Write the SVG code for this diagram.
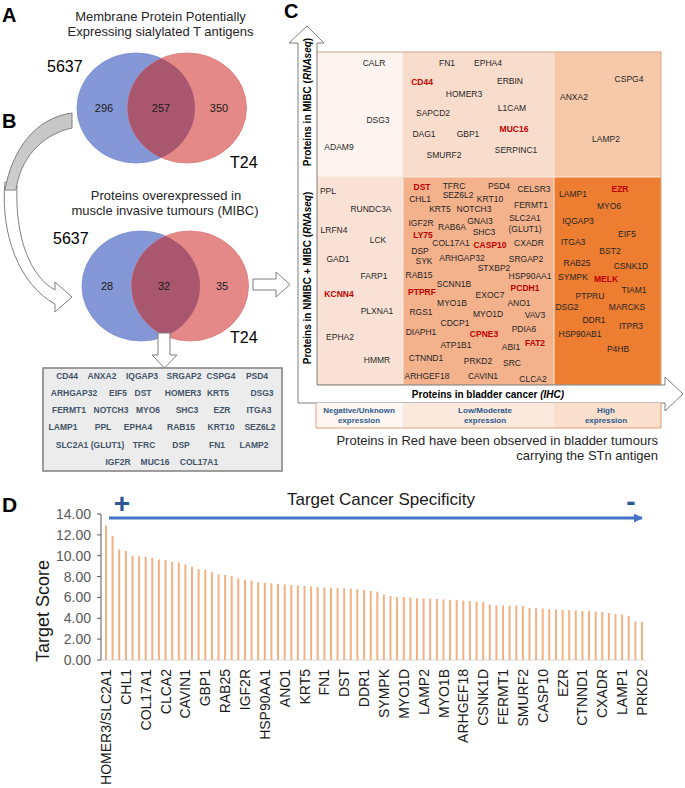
<svg xmlns="http://www.w3.org/2000/svg" width="685" height="788" viewBox="0 0 685 788">
<style>
text{font-family:"Liberation Sans",Arial,sans-serif}
.lbl{font-size:20px;font-weight:bold;fill:#000}
.ttl{font-size:13px;fill:#262626;text-anchor:middle}
.cell{font-size:16px;fill:#000}
.num{font-size:11px;fill:#1a1a1a;text-anchor:middle}
.g{font-size:8.5px;fill:#262626;text-anchor:middle}
.r{font-size:8.5px;fill:#c00000;font-weight:bold;text-anchor:middle}
.ls{font-size:8.5px;fill:#44546a;font-weight:bold;text-anchor:middle}
.lg{font-size:8px;fill:#2e5a8c;font-weight:bold;text-anchor:middle}
.ax{font-size:10px;font-weight:bold;fill:#000;text-anchor:middle}
.yt{font-size:14px;fill:#595959;text-anchor:end}
.xl{font-size:14px;fill:#1a1a1a;text-anchor:end}
.hollow{fill:#fff;stroke:#7f7f7f;stroke-width:1}
.blue{fill:#8497d6;stroke:#7a8ccd;stroke-width:0.8}
.red{fill:#e48888;stroke:#dc7c7c;stroke-width:0.8}
.ov{fill:#a8576f}
</style>
<defs>
<clipPath id="cA"><ellipse cx="136" cy="108" rx="59" ry="55"/></clipPath>
<clipPath id="cB"><ellipse cx="141" cy="286" rx="59" ry="55"/></clipPath>
<linearGradient id="gArr" x1="0" y1="113" x2="0" y2="200" gradientUnits="userSpaceOnUse">
<stop offset="0" stop-color="#c6c6c6"/><stop offset="0.85" stop-color="#cdcdcd"/><stop offset="1" stop-color="#ffffff"/>
</linearGradient>
<marker id="bArr" viewBox="0 0 10 10" refX="9" refY="5" markerWidth="3" markerHeight="3" orient="auto"><path d="M0,0L10,5L0,10Z" fill="#4472c4"/></marker>
</defs>
<rect width="685" height="788" fill="#fff"/>

<g id="panel-letters">
<text class="lbl" x="2" y="22">A</text>
<text class="lbl" x="2" y="128">B</text>
<text class="lbl" x="284" y="18">C</text>
<text class="lbl" x="2" y="512" style="font-size:21px">D</text>
</g>

<g id="venn-a">
<text class="ttl" x="160.5" y="21">Membrane Protein Potentially</text>
<text class="ttl" x="160.5" y="36">Expressing sialylated T antigens</text>
<text class="cell" x="47" y="72">5637</text>
<ellipse class="blue" cx="136" cy="108" rx="59" ry="55"/>
<ellipse class="red" cx="187" cy="108" rx="59.5" ry="55"/>
<ellipse class="ov" cx="187" cy="108" rx="59.5" ry="55" clip-path="url(#cA)"/>
<text class="num" x="104" y="112">296</text>
<text class="num" x="161" y="112">257</text>
<text class="num" x="219" y="112">350</text>
<text class="cell" x="230" y="168">T24</text>
</g>

<g id="venn-b">
<text class="ttl" x="166" y="200">Proteins overexpressed in</text>
<text class="ttl" x="165" y="215">muscle invasive tumours (MIBC)</text>
<text class="cell" x="53" y="244">5637</text>
<ellipse class="blue" cx="141" cy="286" rx="59" ry="55"/>
<ellipse class="red" cx="190" cy="286" rx="58.5" ry="55"/>
<ellipse class="ov" cx="190" cy="286" rx="58.5" ry="55" clip-path="url(#cB)"/>
<text class="num" x="107" y="290">28</text>
<text class="num" x="164" y="290">32</text>
<text class="num" x="222" y="290">35</text>
<text class="cell" x="230" y="343">T24</text>
</g>

<g id="connectors">
<path d="M5,182 C0,235 20,285 55,304 L55,312 L72,297 L55,282 L55,290 C30,276 15,238 17,186 Z" class="hollow"/>
<path d="M72,113 C35,118 12,150 5,190 L16,190 C20,160 40,135 72,128 Z" fill="url(#gArr)" stroke="#7f7f7f" stroke-width="1"/>
<path d="M253,279 L276,279 L276,272 L290,284.5 L276,297 L276,290 L253,290 Z" class="hollow"/>
<path d="M158,333 L170,333 L170,355 L177,355 L164.5,368 L152,355 L158,355 Z" class="hollow"/>
</g>

<g id="list-box">
<rect x="43" y="368" width="239" height="103" fill="#ececec" stroke="#7f7f7f" stroke-width="1.5"/>
<text class="ls" x="67" y="379">CD44</text><text class="ls" x="102" y="379">ANXA2</text><text class="ls" x="142" y="379">IQGAP3</text><text class="ls" x="184" y="379">SRGAP2</text><text class="ls" x="221" y="379">CSPG4</text><text class="ls" x="257" y="379">PSD4</text>
<text class="ls" x="74" y="396">ARHGAP32</text><text class="ls" x="118" y="396">EIF5</text><text class="ls" x="143" y="396">DST</text><text class="ls" x="183" y="396">HOMER3</text><text class="ls" x="218" y="396">KRT5</text><text class="ls" x="262" y="396">DSG3</text>
<text class="ls" x="69" y="413">FERMT1</text><text class="ls" x="111" y="413">NOTCH3</text><text class="ls" x="148" y="413">MYO6</text><text class="ls" x="187" y="413">SHC3</text><text class="ls" x="222" y="413">EZR</text><text class="ls" x="259" y="413">ITGA3</text>
<text class="ls" x="63" y="430">LAMP1</text><text class="ls" x="103" y="430">PPL</text><text class="ls" x="138" y="430">EPHA4</text><text class="ls" x="181" y="430">RAB15</text><text class="ls" x="221" y="430">KRT10</text><text class="ls" x="260" y="430">SEZ6L2</text>
<text class="ls" x="90" y="448">SLC2A1 (GLUT1)</text><text class="ls" x="144" y="448">TFRC</text><text class="ls" x="181" y="448">DSP</text><text class="ls" x="217" y="448">FN1</text><text class="ls" x="254" y="448">LAMP2</text>
<text class="ls" x="118" y="465">IGF2R</text><text class="ls" x="155" y="465">MUC16</text><text class="ls" x="199" y="465">COL17A1</text>
</g>

<g id="grid-c">
<rect x="316" y="52" width="87" height="125" fill="#fdf4ef"/>
<rect x="403" y="52" width="151" height="125" fill="#f9ddcc"/>
<rect x="554" y="52" width="107" height="125" fill="#f6c9ab"/>
<rect x="316" y="177" width="87" height="208" fill="#f9e2d5"/>
<rect x="403" y="177" width="151" height="208" fill="#f3b28c"/>
<rect x="554" y="177" width="107" height="208" fill="#ed7d31"/>
<path d="M316,177H661M403,52V385M554,52V385" stroke="#f7e6dc" stroke-width="1"/>
<rect x="316" y="52" width="345" height="333" fill="none" stroke="#d2a68a" stroke-width="1"/>
</g>

<g id="genes-top">
<text class="g" x="374" y="66">CALR</text><text class="g" x="378" y="123">DSG3</text><text class="g" x="339" y="150">ADAM9</text>
<text class="g" x="447" y="66">FN1</text><text class="g" x="488" y="66">EPHA4</text><text class="r" x="422" y="85">CD44</text><text class="g" x="464" y="97">HOMER3</text><text class="g" x="510" y="84">ERBIN</text><text class="g" x="433" y="116">SAPCD2</text><text class="g" x="512" y="111">L1CAM</text><text class="g" x="424" y="137">DAG1</text><text class="g" x="468" y="137">GBP1</text><text class="r" x="514" y="132">MUC16</text><text class="g" x="516" y="153">SERPINC1</text><text class="g" x="444" y="158">SMURF2</text>
<text class="g" x="629" y="82">CSPG4</text><text class="g" x="574" y="100">ANXA2</text><text class="g" x="606" y="142">LAMP2</text>
</g>

<g id="genes-bottom">
<text class="g" x="328" y="194">PPL</text><text class="g" x="371" y="212">RUNDC3A</text><text class="g" x="334" y="233">LRFN4</text><text class="g" x="378" y="243">LCK</text><text class="g" x="338" y="262">GAD1</text><text class="g" x="374" y="279">FARP1</text><text class="r" x="339" y="297">KCNN4</text><text class="g" x="377" y="314">PLXNA1</text><text class="g" x="340" y="340">EPHA2</text><text class="g" x="377" y="363">HMMR</text>
<text class="r" x="422" y="190">DST</text><text class="g" x="454" y="189">TFRC</text><text class="g" x="499" y="189">PSD4</text><text class="g" x="534" y="192">CELSR3</text>
<text class="g" x="420" y="202">CHL1</text><text class="g" x="458" y="198">SEZ6L2</text><text class="g" x="490" y="202">KRT10</text><text class="g" x="531" y="208">FERMT1</text>
<text class="g" x="440" y="212">KRT5</text><text class="g" x="474" y="212">NOTCH3</text>
<text class="g" x="421" y="226">IGF2R</text><text class="g" x="452" y="230">RAB6A</text><text class="g" x="480" y="224">GNAI3</text><text class="g" x="525" y="221">SLC2A1</text><text class="g" x="525" y="232">(GLUT1)</text>
<text class="r" x="423" y="238">LY75</text><text class="g" x="484" y="235">SHC3</text>
<text class="g" x="451" y="246">COL17A1</text><text class="r" x="490" y="248">CASP10</text><text class="g" x="529" y="246">CXADR</text>
<text class="g" x="420" y="254">DSP</text><text class="g" x="424" y="264">SYK</text><text class="g" x="462" y="261">ARHGAP32</text><text class="g" x="526" y="262">SRGAP2</text>
<text class="g" x="494" y="271">STXBP2</text><text class="g" x="530" y="279">HSP90AA1</text><text class="g" x="419" y="278">RAB15</text><text class="g" x="454" y="287">SCNN1B</text>
<text class="r" x="422" y="295">PTPRF</text><text class="g" x="490" y="298">EXOC7</text><text class="r" x="525" y="291">PCDH1</text>
<text class="g" x="452" y="306">MYO1B</text><text class="g" x="519" y="306">ANO1</text><text class="g" x="421" y="315">RGS1</text><text class="g" x="488" y="317">MYO1D</text><text class="g" x="535" y="318">VAV3</text>
<text class="g" x="455" y="326">CDCP1</text><text class="g" x="421" y="335">DIAPH1</text><text class="r" x="484" y="337">CPNE3</text><text class="g" x="524" y="332">PDIA6</text>
<text class="g" x="456" y="348">ATP1B1</text><text class="g" x="511" y="350">ABI1</text><text class="r" x="535" y="346">FAT2</text>
<text class="g" x="426" y="361">CTNND1</text><text class="g" x="478" y="364">PRKD2</text><text class="g" x="512" y="366">SRC</text>
<text class="g" x="427" y="379">ARHGEF18</text><text class="g" x="483" y="379">CAVIN1</text><text class="g" x="533" y="382">CLCA2</text>
<text class="g" x="573" y="197">LAMP1</text><text class="r" x="620" y="192">EZR</text><text class="g" x="609" y="209">MYO6</text><text class="g" x="578" y="224">IQGAP3</text><text class="g" x="627" y="237">EIF5</text><text class="g" x="573" y="245">ITGA3</text><text class="g" x="610" y="254">BST2</text><text class="g" x="577" y="266">RAB25</text><text class="g" x="631" y="269">CSNK1D</text><text class="g" x="573" y="280">SYMPK</text><text class="r" x="606" y="282">MELK</text><text class="g" x="634" y="293">TIAM1</text><text class="g" x="590" y="299">PTPRU</text><text class="g" x="567" y="310">DSG2</text><text class="g" x="627" y="310">MARCKS</text><text class="g" x="594" y="323">DDR1</text><text class="g" x="631" y="329">ITPR3</text><text class="g" x="580" y="337">HSP90AB1</text><text class="g" x="618" y="352">P4HB</text>
</g>

<g id="axes-c">
<path d="M298,43 L289,43 L307,26 L324,43 L317,43 L317,385 L665,385 L665,377 L683,394 L665,411 L665,403 L298,403 Z" class="hollow" stroke-width="1.2"/>
<text class="ax" transform="translate(311,102) rotate(-90)">Proteins in MIBC (<tspan font-style="italic">RNAseq</tspan>)</text>
<text class="ax" transform="translate(311,278) rotate(-90)">Proteins in NMIBC + MIBC (<tspan font-style="italic">RNAseq</tspan>)</text>
<text class="ax" x="488" y="398">Proteins in bladder cancer <tspan font-style="italic">(IHC)</tspan></text>
</g>

<g id="legend-c">
<rect x="316" y="403" width="87" height="25" fill="#fdf6f2"/>
<rect x="403" y="403" width="151" height="25" fill="#fce9de"/>
<rect x="554" y="403" width="107" height="25" fill="#fadfcd"/>
<path d="M316,403V428H661V403" fill="none" stroke="#e2a27c" stroke-width="1"/>
<text class="lg" x="359" y="412.5">Negative/Unknown</text><text class="lg" x="359" y="422.5">expression</text>
<text class="lg" x="485" y="412.5">Low/Moderate</text><text class="lg" x="485" y="422.5">expression</text>
<text class="lg" x="606" y="412.5">High</text><text class="lg" x="606" y="422.5">expression</text>
<text x="658" y="445" style="font-size:13px;fill:#262626;text-anchor:end">Proteins in Red have been observed in bladder tumours</text>
<text x="658" y="460" style="font-size:13px;fill:#262626;text-anchor:end">carrying the STn antigen</text>
</g>

<g id="chart-d">
<text x="381" y="505" style="font-size:17px;fill:#1a1a1a;text-anchor:middle">Target Cancer Specificity</text>
<text x="122" y="513" style="font-size:28px;font-weight:bold;fill:#2f5597;text-anchor:middle">+</text>
<text x="631" y="510.5" style="font-size:28px;font-weight:bold;fill:#2f5597;text-anchor:middle">-</text>
<line x1="109" y1="518" x2="642" y2="518" stroke="#4472c4" stroke-width="3" marker-end="url(#bArr)"/>
<text x="48.5" y="611" transform="rotate(-90 48.5 611)" style="font-size:18px;fill:#1a1a1a;text-anchor:middle">Target Score</text>
<text class="yt" x="91" y="519">14.00</text><text class="yt" x="91" y="539.9">12.00</text><text class="yt" x="91" y="560.7">10.00</text><text class="yt" x="91" y="581.6">8.00</text><text class="yt" x="91" y="602.4">6.00</text><text class="yt" x="91" y="623.3">4.00</text><text class="yt" x="91" y="644.1">2.00</text><text class="yt" x="91" y="665">0.00</text>
<path d="M97,514H101M97,534.9H101M97,555.7H101M97,576.6H101M97,597.4H101M97,618.3H101M97,639.1H101M97,660H101M101,514V660" stroke="#595959" stroke-width="1" fill="none"/>
<line x1="101" y1="660" x2="646" y2="660" stroke="#d9d9d9" stroke-width="1.2"/>
<path stroke="#f4b183" stroke-width="2" fill="none" d="M106,525.5V660M112.6,535.9V660M119.2,549.4V660M125.9,551V660M132.5,555.7V660M139.1,556.2V660M145.7,556.7V660M152.3,557.8V660M158.9,559.4V660M165.6,559.9V660M172.2,561.4V660M178.8,562.5V660M185.4,564.6V660M192,566.7V660M198.6,569.3V660M205.3,569.8V660M211.9,571.9V660M218.5,574.5V660M225.1,575V660M231.7,576V660M238.3,578.6V660M245,579.7V660M251.6,580.7V660M258.2,582.3V660M264.8,582.8V660M271.4,583.3V660M278,583.9V660M284.7,584.4V660M291.3,584.9V660M297.9,585.4V660M304.5,585.9V660M311.1,586.5V660M317.7,587.3V660M324.4,587.5V660M331,587.8V660M337.6,588V660M344.2,588.2V660M350.8,588.6V660M357.4,589.3V660M364.1,590.1V660M370.7,591V660M377.3,591.7V660M383.9,594.8V660M390.5,595.9V660M397.1,596.9V660M403.8,596.9V660M410.4,597.4V660M417,598.3V660M423.6,598.5V660M430.2,598.8V660M436.9,599V660M443.5,599.5V660M450.1,599.7V660M456.7,600V660M463.3,600.6V660M469.9,601.1V660M476.6,601.4V660M483.2,602.1V660M489.8,604.7V660M496.4,605.2V660M503,605.5V660M509.6,605.8V660M516.3,605.8V660M522.9,606V660M529.5,607.9V660M536.1,608.1V660M542.7,608.4V660M549.3,609.2V660M556,609.4V660M562.6,609.9V660M569.2,610.2V660M575.8,610.5V660M582.4,611V660M589,611V660M595.7,611.5V660M602.3,612V660M608.9,613.1V660M615.5,613.9V660M622.1,614.6V660M628.7,615.7V660M635.4,621.6V660M642,621.9V660"/>
<text class="xl" transform="translate(111,669) rotate(-90)">HOMER3/SLC2A1</text>
<text class="xl" transform="translate(131,669) rotate(-90)">CHL1</text>
<text class="xl" transform="translate(150.7,669) rotate(-90)">COL17A1</text>
<text class="xl" transform="translate(170.6,669) rotate(-90)">CLCA2</text>
<text class="xl" transform="translate(190.4,669) rotate(-90)">CAVIN1</text>
<text class="xl" transform="translate(210.3,669) rotate(-90)">GBP1</text>
<text class="xl" transform="translate(230.1,669) rotate(-90)">RAB25</text>
<text class="xl" transform="translate(250,669) rotate(-90)">IGF2R</text>
<text class="xl" transform="translate(269.8,669) rotate(-90)">HSP90AA1</text>
<text class="xl" transform="translate(289.7,669) rotate(-90)">ANO1</text>
<text class="xl" transform="translate(309.5,669) rotate(-90)">KRT5</text>
<text class="xl" transform="translate(329.4,669) rotate(-90)">FN1</text>
<text class="xl" transform="translate(349.2,669) rotate(-90)">DST</text>
<text class="xl" transform="translate(369.1,669) rotate(-90)">DDR1</text>
<text class="xl" transform="translate(388.9,669) rotate(-90)">SYMPK</text>
<text class="xl" transform="translate(408.8,669) rotate(-90)">MYO1D</text>
<text class="xl" transform="translate(428.6,669) rotate(-90)">LAMP2</text>
<text class="xl" transform="translate(448.5,669) rotate(-90)">MYO1B</text>
<text class="xl" transform="translate(468.3,669) rotate(-90)">ARHGEF18</text>
<text class="xl" transform="translate(488.2,669) rotate(-90)">CSNK1D</text>
<text class="xl" transform="translate(508,669) rotate(-90)">FERMT1</text>
<text class="xl" transform="translate(527.9,669) rotate(-90)">SMURF2</text>
<text class="xl" transform="translate(547.7,669) rotate(-90)">CASP10</text>
<text class="xl" transform="translate(567.6,669) rotate(-90)">EZR</text>
<text class="xl" transform="translate(587.4,669) rotate(-90)">CTNND1</text>
<text class="xl" transform="translate(607.3,669) rotate(-90)">CXADR</text>
<text class="xl" transform="translate(627.1,669) rotate(-90)">LAMP1</text>
<text class="xl" transform="translate(647,669) rotate(-90)">PRKD2</text>
</g>
</svg>
